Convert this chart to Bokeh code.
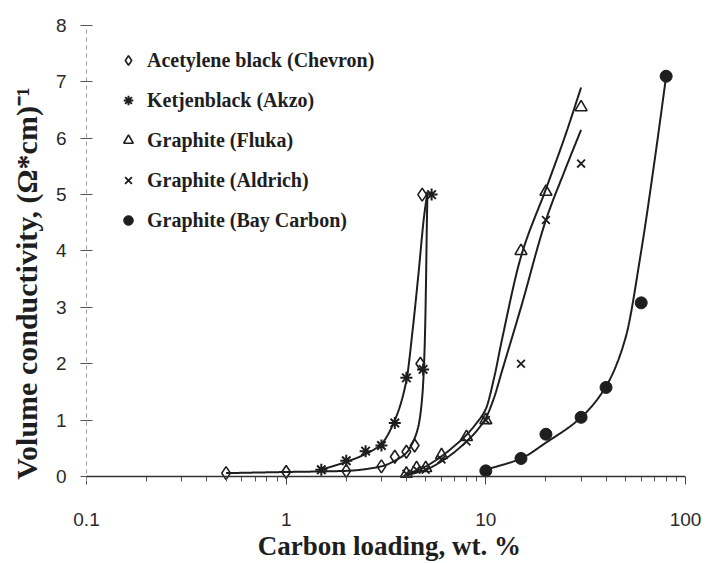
import numpy as np
from bokeh.plotting import figure
from bokeh.models import (Range1d, Legend, LegendItem, FixedTicker,
                          NumeralTickFormatter, Span)
from bokeh.embed import file_html
from bokeh.resources import INLINE

# ---------------- data ----------------
acet_x = [0.5, 1, 2, 3, 3.5, 4, 4.4, 4.7, 4.8]
acet_y = [0.06, 0.08, 0.1, 0.18, 0.35, 0.44, 0.55, 2.0, 5.0]
acet_fit_x = [0.5, 1, 2, 3, 3.5, 4, 4.3, 4.6, 4.8, 4.9, 5.0, 5.05, 5.1]
acet_fit_y = [0.06, 0.08, 0.1, 0.18, 0.28, 0.42, 0.6, 0.9, 1.4, 1.95, 3.1, 4.2, 5.05]

ketjen_x = [1.5, 2, 2.5, 3, 3.5, 4, 4.85, 5.35]
ketjen_y = [0.12, 0.28, 0.45, 0.55, 0.95, 1.75, 1.9, 5.0]
ketjen_fit_x = [1.5, 2, 2.5, 3, 3.5, 4, 4.3, 4.6, 4.9, 5.1]
ketjen_fit_y = [0.12, 0.26, 0.4, 0.58, 1.0, 1.7, 2.6, 3.6, 4.6, 5.05]

fluka_x = [4, 4.5, 5, 6, 8, 10, 15, 20, 30]
fluka_y = [0.05, 0.15, 0.15, 0.38, 0.7, 1.0, 4.0, 5.05, 6.55]
fluka_fit_x = [4, 5, 6, 7, 8, 9, 10, 11, 12, 15, 20, 25, 30]
fluka_fit_y = [0.03, 0.18, 0.36, 0.55, 0.74, 0.95, 1.2, 1.75, 2.4, 3.9, 5.1, 6.05, 6.9]

aldrich_x = [4, 4.5, 5, 6, 8, 10, 15, 20, 30]
aldrich_y = [0.05, 0.12, 0.12, 0.3, 0.62, 1.0, 2.0, 4.55, 5.55]
aldrich_fit_x = [4, 5, 6, 7, 8, 9, 10, 11, 12, 15, 20, 25, 30]
aldrich_fit_y = [0.02, 0.12, 0.27, 0.44, 0.62, 0.81, 1.04, 1.4, 1.85, 3.0, 4.55, 5.45, 6.15]

bay_x = [10, 15, 20, 30, 40, 60, 80]
bay_y = [0.1, 0.32, 0.75, 1.05, 1.58, 3.08, 7.1]
bay_fit_x = [10, 15, 20, 30, 40, 50, 60, 70, 80]
bay_fit_y = [0.12, 0.32, 0.6, 1.05, 1.6, 2.45, 4.0, 5.6, 7.1]

legend_labels = ["Acetylene black (Chevron)", "Ketjenblack (Akzo)",
                 "Graphite (Fluka)", "Graphite (Aldrich)", "Graphite (Bay Carbon)"]
x_ticks = [0.1, 1, 10, 100]
y_ticks = [0, 1, 2, 3, 4, 5, 6, 7, 8]
x_title = "Carbon loading, wt. %"
y_title = "Volume conductivity, (Ω*cm)⁻¹"


def pchip(xk, yk, n=300):
    """Smooth monotone curve through the read-off trend-line points (log-x)."""
    lx = np.log10(np.asarray(xk, float))
    y = np.asarray(yk, float)
    h = np.diff(lx)
    d = np.diff(y) / h
    m = np.zeros_like(y)
    m[0], m[-1] = d[0], d[-1]
    for k in range(1, len(y) - 1):
        if d[k - 1] * d[k] > 0:
            w1 = 2 * h[k] + h[k - 1]
            w2 = h[k] + 2 * h[k - 1]
            m[k] = (w1 + w2) / (w1 / d[k - 1] + w2 / d[k])
    xs = np.linspace(lx[0], lx[-1], n)
    idx = np.clip(np.searchsorted(lx, xs) - 1, 0, len(h) - 1)
    t = (xs - lx[idx]) / h[idx]
    h00 = 2 * t**3 - 3 * t**2 + 1
    h10 = t**3 - 2 * t**2 + t
    h01 = -2 * t**3 + 3 * t**2
    h11 = t**3 - t**2
    ys = h00 * y[idx] + h10 * h[idx] * m[idx] + h01 * y[idx + 1] + h11 * h[idx] * m[idx + 1]
    return 10**xs, ys


INK = "#1e1e1e"
NBSP = "\u00a0"

p = figure(width=706, height=563, x_axis_type="log",
           x_range=Range1d(0.1, 100), y_range=Range1d(-0.0887, 8),
           output_backend="svg", toolbar_location=None,
           min_border_left=86, min_border_right=21,
           min_border_top=25, min_border_bottom=82)
p.grid.visible = False
p.outline_line_color = None
p.background_fill_color = "white"
p.border_fill_color = "white"

# x axis: ticks hang from the y = 0 line
xa = p.xaxis[0]
xa.ticker = FixedTicker(ticks=x_ticks,
                        minor_ticks=[m * 10.0**e for e in (-1, 0, 1) for m in range(2, 10)])
xa.formatter = NumeralTickFormatter(format="0.[0]")
xa.axis_line_color = None
xa.major_tick_in = 5
xa.major_tick_out = 3
xa.minor_tick_in = 5
xa.minor_tick_out = 0
xa.major_tick_line_color = "#444444"
xa.minor_tick_line_color = "#555555"
xa.major_label_standoff = 28
xa.major_label_text_font = "Liberation Sans"
xa.major_label_text_font_size = "19px"
xa.major_label_text_color = "#2a2a2a"
xa.axis_label = NBSP + x_title
xa.axis_label_text_font = "Liberation Serif"
xa.axis_label_text_font_style = "bold"
xa.axis_label_text_font_size = "27px"
xa.axis_label_text_color = INK
xa.axis_label_standoff = 2
p.add_layout(Span(location=0, dimension="width", line_color="#333333", line_width=1.5))

ya = p.yaxis[0]
ya.ticker = FixedTicker(ticks=y_ticks)
ya.axis_line_color = "#9a9a9a"
ya.axis_line_dash = "4 4"
ya.major_tick_in = 6
ya.major_tick_out = 6
ya.major_tick_line_color = "#555555"
ya.minor_tick_line_color = None
ya.major_label_standoff = 14
ya.major_label_text_font = "Liberation Sans"
ya.major_label_text_font_size = "19px"
ya.major_label_text_color = "#2a2a2a"
ya.axis_label = y_title + NBSP * 8
ya.axis_label_text_font = "Liberation Serif"
ya.axis_label_text_font_style = "bold"
ya.axis_label_text_font_size = "30px"
ya.axis_label_text_color = INK
ya.axis_label_standoff = 10

# trend curves
for fx, fy in [(acet_fit_x, acet_fit_y), (ketjen_fit_x, ketjen_fit_y),
               (fluka_fit_x, fluka_fit_y), (aldrich_fit_x, aldrich_fit_y),
               (bay_fit_x, bay_fit_y)]:
    cx, cy = pchip(fx, fy)
    p.line(cx, cy, line_color=INK, line_width=2)

# markers
r_acet = p.scatter(acet_x, acet_y, marker="diamond", size=13, fill_color=None,
                   line_color=INK, line_width=1.6)
r_ket = p.scatter(ketjen_x, ketjen_y, marker="asterisk", angle=np.pi / 2, size=12,
                  line_color=INK, line_width=2)
r_flu = p.scatter(fluka_x, fluka_y, marker="triangle", size=12, fill_color=None,
                  line_color=INK, line_width=1.6)
r_ald = p.scatter(aldrich_x, aldrich_y, marker="x", size=11,
                  line_color=INK, line_width=1.8)
r_bay = p.scatter(bay_x, bay_y, marker="circle", size=12, fill_color=INK,
                  line_color=INK)

legend = Legend(items=[LegendItem(label=lab, renderers=[r]) for lab, r in
                       zip(legend_labels, [r_acet, r_ket, r_flu, r_ald, r_bay])],
                location="top_left", margin=0, padding=23,
                glyph_width=38, glyph_height=24, label_height=24,
                spacing=16, label_standoff=0,
                label_text_font="Liberation Serif", label_text_font_style="bold",
                label_text_font_size="20px", label_text_color=INK,
                background_fill_alpha=0, border_line_alpha=0)
p.add_layout(legend)

open("out.html", "w").write(file_html(p, INLINE))
